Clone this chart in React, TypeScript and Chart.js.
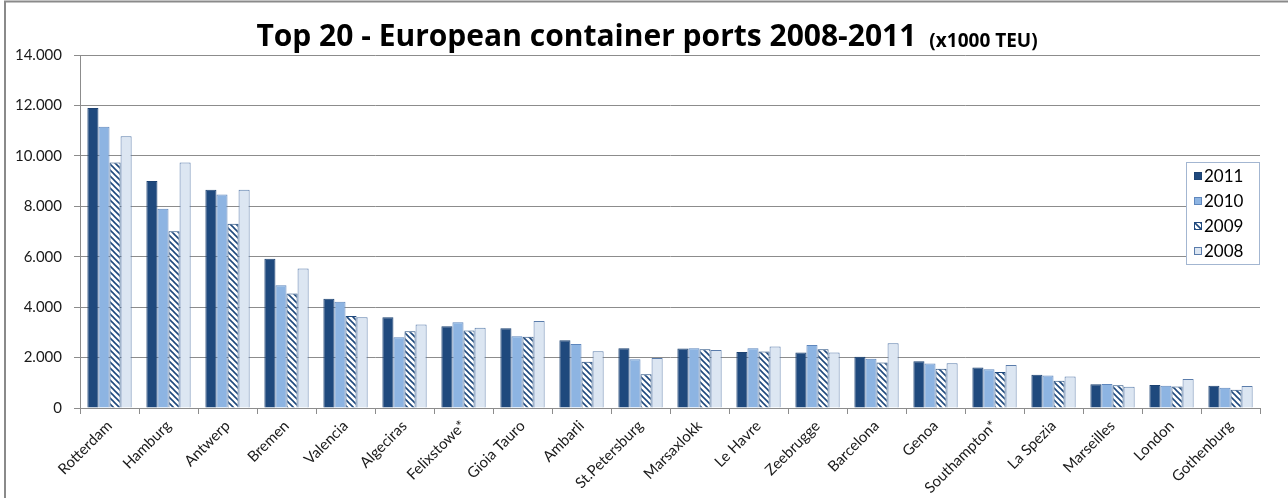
import React, { useEffect, useRef } from 'react';
import { Chart, registerables } from 'chart.js';

Chart.register(...registerables);

const ports = [
  'Rotterdam', 'Hamburg', 'Antwerp', 'Bremen', 'Valencia', 'Algeciras', 'Felixstowe*',
  'Gioia Tauro', 'Ambarli', 'St.Petersburg', 'Marsaxlokk', 'Le Havre', 'Zeebrugge',
  'Barcelona', 'Genoa', 'Southampton*', 'La Spezia', 'Marseilles', 'London', 'Gothenburg',
];

const years = ['2011', '2010', '2009', '2008'];

const teu2011 = [11900, 9000, 8660, 5920, 4330, 3600, 3240, 3160, 2690, 2370, 2360, 2220, 2200, 2030, 1850, 1610, 1320, 940, 910, 880];
const teu2010 = [11150, 7900, 8470, 4870, 4210, 2810, 3400, 2850, 2540, 1930, 2370, 2370, 2500, 1950, 1760, 1540, 1290, 950, 880, 800];
const teu2009 = [9740, 7010, 7310, 4540, 3650, 3040, 3070, 2830, 1830, 1340, 2330, 2240, 2330, 1800, 1560, 1430, 1080, 900, 850, 720];
const teu2008 = [10780, 9740, 8660, 5530, 3600, 3310, 3180, 3450, 2250, 1980, 2300, 2440, 2200, 2570, 1770, 1710, 1250, 840, 1150, 870];

const yMax = 14000;
const yStep = 2000;

const titleMain = 'Top 20 - European container ports 2008-2011';
const titleUnit = '(x1000 TEU)';

const NAVY = '#1f497d';
const FONT = 'Lato, "Open Sans", sans-serif';
const TITLE_FONT = '"Open Sans", Lato, sans-serif';

function makeHatch(): CanvasPattern | string {
  const c = document.createElement('canvas');
  c.width = 6;
  c.height = 6;
  const g = c.getContext('2d');
  if (!g) return NAVY;
  g.fillStyle = '#ffffff';
  g.fillRect(0, 0, 6, 6);
  g.strokeStyle = NAVY;
  g.lineWidth = 1.6;
  for (const k of [-1, 0, 1]) {
    g.beginPath();
    g.moveTo(-2, -2 + 6 * k);
    g.lineTo(8, 8 + 6 * k);
    g.stroke();
  }
  return g.createPattern(c, 'repeat') || NAVY;
}

function fmt(v: number): string {
  return String(Math.round(v)).replace(/\B(?=(\d{3})+(?!\d))/g, '.');
}

const framePlugin = {
  id: 'frameAndTitle',
  beforeDraw(chart: any) {
    const ctx = chart.ctx as CanvasRenderingContext2D;
    ctx.save();
    ctx.fillStyle = '#ffffff';
    ctx.fillRect(0, 0, chart.width, chart.height);
    ctx.strokeStyle = '#8a8a8a';
    ctx.lineWidth = 2;
    ctx.beginPath();
    ctx.moveTo(5, chart.height);
    ctx.lineTo(5, 1.5);
    ctx.lineTo(chart.width, 1.5);
    ctx.stroke();
    ctx.restore();
  },
  afterDraw(chart: any) {
    const ctx = chart.ctx as CanvasRenderingContext2D;
    ctx.save();
    ctx.fillStyle = '#000000';
    ctx.textBaseline = 'alphabetic';
    ctx.textAlign = 'left';
    ctx.font = `bold 30px ${TITLE_FONT}`;
    const w1 = ctx.measureText(titleMain).width;
    ctx.font = `bold 19px ${TITLE_FONT}`;
    const w2 = ctx.measureText(titleUnit).width;
    const gap = 13;
    const start = 647 - (w1 + gap + w2) / 2;
    ctx.font = `bold 30px ${TITLE_FONT}`;
    ctx.fillText(titleMain, start, 46);
    ctx.font = `bold 19px ${TITLE_FONT}`;
    ctx.fillText(titleUnit, start + w1 + gap, 47);

    // legend box
    const area = chart.chartArea;
    const lw = 73;
    const lh = 102;
    const lx = Math.round(area.right) - lw - 0.5;
    const ly = 162.5;
    ctx.fillStyle = '#ffffff';
    ctx.fillRect(lx, ly, lw, lh);
    ctx.strokeStyle = '#a3b6d1';
    ctx.lineWidth = 1;
    ctx.strokeRect(lx, ly, lw, lh);
    chart.data.datasets.forEach((ds: any, i: number) => {
      const cy = 176 + i * 25;
      const sx = lx + 7.5;
      ctx.fillStyle = ds.backgroundColor;
      ctx.fillRect(sx, cy - 4, 8, 8);
      ctx.strokeStyle = ds.borderColor;
      ctx.strokeRect(sx + 0.5, cy - 3.5, 7, 7);
      ctx.fillStyle = '#000000';
      ctx.font = `17px ${FONT}`;
      ctx.textBaseline = 'middle';
      ctx.fillText(ds.label, sx + 10, cy + 1);
    });
    ctx.restore();
  },
};

export default function App() {
  const ref = useRef<HTMLCanvasElement | null>(null);

  useEffect(() => {
    document.body.style.margin = '0';
    const canvas = ref.current;
    if (!canvas) return;
    const hatch = makeHatch();
    const chart = new Chart(canvas, {
      type: 'bar',
      data: {
        labels: ports,
        datasets: [
          { label: years[0], data: teu2011, backgroundColor: NAVY, borderColor: '#1c4272', borderWidth: 1 },
          { label: years[1], data: teu2010, backgroundColor: '#8db4e2', borderColor: '#5f87bd', borderWidth: 1 },
          { label: years[2], data: teu2009, backgroundColor: hatch as any, borderColor: NAVY, borderWidth: 1 },
          { label: years[3], data: teu2008, backgroundColor: '#dce6f2', borderColor: '#5a7cab', borderWidth: 1 },
        ],
      },
      options: {
        responsive: false,
        animation: false,
        devicePixelRatio: 1,
        layout: { padding: { top: 55, right: 28, left: 0, bottom: 0 } },
        datasets: { bar: { categoryPercentage: 0.75, barPercentage: 1.0 } },
        plugins: {
          legend: { display: false },
          title: { display: false },
          tooltip: { enabled: false },
        },
        scales: {
          x: {
            grid: {
              display: true,
              drawOnChartArea: false,
              drawTicks: true,
              tickLength: 6,
              color: '#8c8c8c',
              offset: true,
            },
            border: { display: true, color: '#8c8c8c', width: 1 },
            ticks: {
              autoSkip: false,
              maxRotation: 45,
              minRotation: 45,
              padding: 3,
              color: '#1a1a1a',
              font: { family: FONT, size: 15 },
            },
            afterFit: (scale: any) => {
              scale.height = 90;
            },
          },
          y: {
            min: 0,
            max: yMax,
            ticks: {
              stepSize: yStep,
              padding: 12,
              color: '#1a1a1a',
              font: { family: FONT, size: 15 },
              callback: (v: any) => fmt(Number(v)),
            },
            grid: {
              color: '#8c8c8c',
              lineWidth: 1,
              drawTicks: true,
              tickLength: 6,
            },
            border: { display: true, color: '#8c8c8c', width: 1 },
            afterFit: (scale: any) => {
              scale.width = 80;
            },
          },
        },
      },
      plugins: [framePlugin],
    });
    return () => chart.destroy();
  }, []);

  return (
    <div style={{ width: 1288, height: 498, position: 'relative' }}>
      <canvas ref={ref} width={1288} height={498} style={{ display: 'block' }} />
    </div>
  );
}
